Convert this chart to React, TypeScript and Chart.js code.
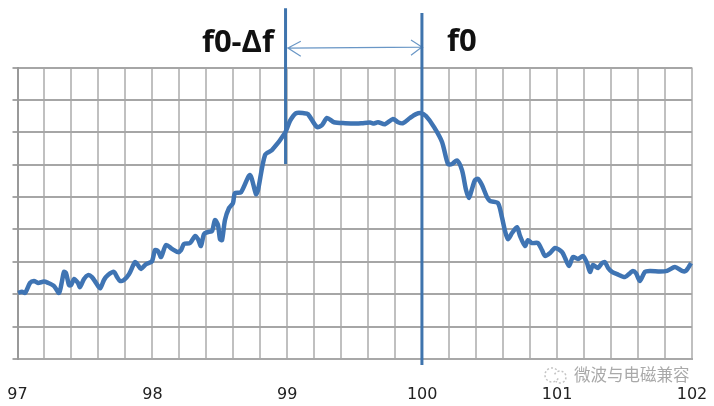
import React, { useEffect, useRef } from "react";
import { Chart, registerables } from "chart.js";

Chart.register(...registerables);

const freq = [97.004,97.033,97.056,97.093,97.122,97.152,97.196,97.226,97.271,97.308,97.33,97.345,97.36,97.382,97.397,97.419,97.448,97.463,97.493,97.523,97.552,97.582,97.612,97.641,97.671,97.715,97.738,97.76,97.789,97.827,97.871,97.893,97.915,97.953,97.997,98.019,98.042,98.064,98.101,98.145,98.19,98.212,98.234,98.279,98.316,98.338,98.36,98.383,98.412,98.442,98.464,98.486,98.501,98.516,98.538,98.568,98.597,98.612,98.657,98.723,98.768,98.783,98.835,98.887,98.983,99.02,99.064,99.124,99.153,99.22,99.257,99.294,99.346,99.428,99.517,99.554,99.613,99.643,99.672,99.724,99.784,99.821,99.858,99.909,99.954,99.991,100.028,100.088,100.147,100.191,100.221,100.258,100.295,100.325,100.347,100.369,100.391,100.414,100.443,100.48,100.503,100.562,100.591,100.614,100.636,100.666,100.703,100.725,100.762,100.784,100.814,100.858,100.888,100.911,100.948,100.985,101.037,101.059,101.088,101.118,101.155,101.192,101.222,101.244,101.266,101.303,101.333,101.355,101.378,101.407,101.444,101.503,101.54,101.562,101.585,101.614,101.651,101.688,101.763,101.815,101.874,101.926,101.955,101.993];
const level = [2.04,2.08,2.04,2.35,2.41,2.35,2.39,2.35,2.25,2.04,2.41,2.69,2.65,2.28,2.28,2.47,2.35,2.22,2.47,2.59,2.53,2.35,2.18,2.44,2.59,2.69,2.53,2.41,2.44,2.62,2.99,2.9,2.78,2.93,3.02,3.36,3.33,3.15,3.52,3.4,3.3,3.36,3.55,3.58,3.8,3.7,3.49,3.86,3.92,3.95,4.29,4.14,3.7,3.67,4.29,4.66,4.81,5.12,5.15,5.68,5.09,5.22,6.3,6.45,6.98,7.35,7.59,7.59,7.56,7.16,7.22,7.44,7.31,7.28,7.27,7.28,7.3,7.27,7.31,7.25,7.41,7.31,7.28,7.44,7.56,7.59,7.5,7.16,6.7,6.02,6.02,6.13,5.83,5.22,4.97,5.25,5.52,5.56,5.37,5,4.88,4.81,4.38,3.95,3.7,3.89,4.07,3.8,3.49,3.67,3.58,3.58,3.36,3.18,3.27,3.43,3.3,3.12,2.87,3.15,3.09,3.18,2.96,2.69,2.9,2.81,2.96,2.99,2.81,2.69,2.62,2.53,2.65,2.72,2.65,2.41,2.69,2.72,2.7,2.72,2.84,2.72,2.72,2.96];

const markerLowX = [98.987, 98.987];
const markerLowY = [10.83, 6.02];
const markerHighX = [99.998, 99.998];
const markerHighY = [10.68, -0.185];
const arrowX = [99.1, 99.005, 99.1, 99.005, 99.998, 99.917, 99.998, 99.917];
const arrowY = [9.81, 9.6, 9.35, 9.6, 9.63, 9.85, 9.63, 9.38];

const labelLow = "f0-Δf";
const labelHigh = "f0";
const watermark = "微波与电磁兼容";

const zip = (xs: number[], ys: number[]) => xs.map((x, i) => ({ x, y: ys[i] }));

const notes = {
  id: "notes",
  afterDraw(chart: any) {
    const { ctx } = chart;
    ctx.save();
    ctx.fillStyle = "#111111";
    ctx.textBaseline = "alphabetic";
    ctx.font = "bold 31px 'Open Sans'";
    ctx.textAlign = "right";
    ctx.fillText(labelLow, 274, 52);
    ctx.textAlign = "left";
    ctx.fillText(labelHigh, 447, 51);
    ctx.fillStyle = "#a9a9a9";
    ctx.font = "16.5px 'Noto Sans CJK SC'";
    ctx.fillText(watermark, 574, 381);
    ctx.strokeStyle = "#c4c4c4";
    ctx.lineWidth = 1.5;
    ctx.setLineDash([2, 2]);
    ctx.beginPath();
    ctx.arc(552, 375, 7, 0.5, 5.6);
    ctx.stroke();
    ctx.beginPath();
    ctx.arc(560, 377, 6, 3.6, 8.6);
    ctx.stroke();
    ctx.restore();
  },
};

export default function App() {
  const ref = useRef<HTMLCanvasElement>(null);
  useEffect(() => {
    const chart = new Chart(ref.current!, {
      type: "line",
      data: {
        datasets: [
          { data: zip(freq, level), borderColor: "#3f74b3", borderWidth: 4.5, tension: 0.25, pointRadius: 0, clip: false },
          { data: zip(markerLowX, markerLowY), borderColor: "#3f74ad", borderWidth: 3, pointRadius: 0, clip: false },
          { data: zip(markerHighX, markerHighY), borderColor: "#3f74ad", borderWidth: 3, pointRadius: 0, clip: false },
          { data: zip(arrowX, arrowY), borderColor: "#6a97c6", borderWidth: 1.2, pointRadius: 0, clip: false },
        ],
      } as any,
      options: {
        responsive: false,
        animation: false,
        layout: { padding: { left: 0, right: 22, top: 67.5, bottom: 0 } },
        plugins: { legend: { display: false }, tooltip: { enabled: false } },
        scales: {
          x: {
            type: "linear",
            min: 97,
            max: 102,
            afterFit(s: any) { s.height = 47; s.paddingLeft = 0; s.paddingRight = 0; },
            border: { color: "#a8a8a8", width: 2 },
            grid: { color: "#c0c0c0", lineWidth: 2, drawTicks: false },
            ticks: {
              stepSize: 0.2,
              autoSkip: false,
              maxRotation: 0,
              padding: 26,
              color: "#222222",
              font: { family: "'DejaVu Sans'", size: 16 },
              callback: (v: any) => (Math.abs(v - Math.round(v)) < 1e-6 ? String(Math.round(v)) : ""),
            },
          },
          y: {
            min: 0,
            max: 9,
            afterFit(s: any) { s.width = 17.5; s.paddingTop = 0; s.paddingBottom = 0; },
            border: { color: "#999999", width: 2 },
            grid: { color: "#a6a6a6", lineWidth: 2, tickLength: 5 },
            ticks: { stepSize: 1, display: false },
          },
        },
      } as any,
      plugins: [notes],
    });
    return () => chart.destroy();
  }, []);
  return (
    <canvas
      ref={ref}
      width={714}
      height={406}
      style={{ position: "absolute", left: 0, top: 0, width: 714, height: 406, display: "block", background: "#ffffff" }}
    />
  );
}
